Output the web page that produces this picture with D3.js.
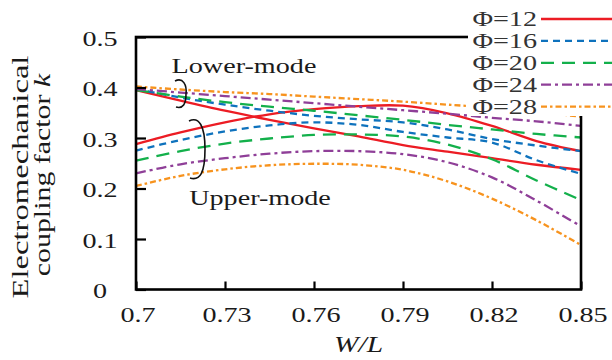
<!DOCTYPE html>
<html><head><meta charset="utf-8">
<script src="https://cdn.jsdelivr.net/npm/d3@7"></script>
<style>
html,body{margin:0;padding:0;background:#fff;}
svg{display:block;}
</style></head>
<body>
<svg id="chart" width="612" height="360"></svg>
<script>
// ---------- data ----------
const wl = [0.70, 0.715, 0.73, 0.745, 0.76, 0.775, 0.79, 0.805, 0.82, 0.835, 0.85];
const phiLabels = ["Φ=12", "Φ=16", "Φ=20", "Φ=24", "Φ=28"];
const lower12 = [0.395, 0.374, 0.354, 0.336, 0.319, 0.303, 0.286, 0.273, 0.260, 0.247, 0.237];
const upper12 = [0.288, 0.311, 0.331, 0.347, 0.357, 0.363, 0.364, 0.349, 0.324, 0.294, 0.274];
const lower16 = [0.397, 0.380, 0.366, 0.354, 0.344, 0.337, 0.331, 0.317, 0.298, 0.285, 0.274];
const upper16 = [0.275, 0.296, 0.313, 0.325, 0.331, 0.326, 0.312, 0.301, 0.291, 0.256, 0.229];
const lower20 = [0.395, 0.382, 0.371, 0.362, 0.354, 0.345, 0.336, 0.326, 0.317, 0.308, 0.301];
const upper20 = [0.255, 0.274, 0.289, 0.299, 0.306, 0.307, 0.303, 0.287, 0.258, 0.216, 0.177];
const lower24 = [0.397, 0.390, 0.383, 0.376, 0.369, 0.362, 0.355, 0.348, 0.340, 0.333, 0.324];
const upper24 = [0.230, 0.248, 0.260, 0.269, 0.274, 0.274, 0.268, 0.252, 0.222, 0.176, 0.125];
const lower28 = [0.402, 0.396, 0.391, 0.387, 0.382, 0.377, 0.372, 0.366, 0.360, 0.352, 0.342];
const upper28 = [0.205, 0.225, 0.238, 0.246, 0.249, 0.247, 0.237, 0.214, 0.180, 0.137, 0.088];
const xTicks = [0.70, 0.73, 0.76, 0.79, 0.82, 0.85];
const xTickLabels = ["0.7", "0.73", "0.76", "0.79", "0.82", "0.85"];
const yTicks = [0, 0.1, 0.2, 0.3, 0.4, 0.5];
const yTickLabels = ["0", "0.1", "0.2", "0.3", "0.4", "0.5"];

const series = [
  {name: phiLabels[0], lower: lower12, upper: upper12, color: "#ec1c24", dash: null},
  {name: phiLabels[1], lower: lower16, upper: upper16, color: "#0e72bd", dash: "7,5"},
  {name: phiLabels[2], lower: lower20, upper: upper20, color: "#13b04b", dash: "13,8"},
  {name: phiLabels[3], lower: lower24, upper: upper24, color: "#8f3f98", dash: "10,4,3,4"},
  {name: phiLabels[4], lower: lower28, upper: upper28, color: "#f7931e", dash: "6,3,2.5,3"}
];

// ---------- layout ----------
const svg = d3.select("#chart");
const L = 136, R = 581, T = 37, B = 289.5;
const SX = 1.28; // horizontal stretch of text
const FONT = "'Liberation Serif','Times New Roman',serif";

const x = d3.scaleLinear().domain([0.70, 0.85]).range([L, R]);
const y = d3.scaleLinear().domain([0, 0.5]).range([B, T]);

function stext(g, str, px, py, opts = {}) {
  const t = g.append("text")
    .attr("transform", `translate(${px},${py})` + (opts.rotate ? ` rotate(${opts.rotate})` : "") + ` scale(${opts.sx || SX},1)`)
    .attr("text-anchor", opts.anchor || "middle")
    .attr("font-family", FONT)
    .attr("font-size", opts.size || 22)
    .attr("fill", opts.fill || "#1a1a1a");
  if (opts.italic) t.attr("font-style", "italic");
  t.text(str);
  return t;
}

// ---------- curves ----------
const line = d3.line()
  .x(d => x(d[0]))
  .y(d => y(d[1]))
  .curve(d3.curveCatmullRom.alpha(0.5));

const curves = svg.append("g");
series.forEach(s => {
  [s.lower, s.upper].forEach(vals => {
    curves.append("path")
      .attr("d", line(wl.map((w, i) => [w, vals[i]])))
      .attr("fill", "none")
      .attr("stroke", s.color)
      .attr("stroke-width", 2.3)
      .attr("stroke-dasharray", s.dash);
  });
});

// ---------- frame and ticks ----------
const frame = svg.append("g").attr("stroke", "#000").attr("fill", "none");
frame.append("rect").attr("x", L).attr("y", T).attr("width", R - L).attr("height", B - T)
  .attr("stroke-width", 2.6);

const xAxis = d3.axisBottom(x).tickValues(xTicks).tickSize(-8).tickFormat("");
const gx = svg.append("g").attr("transform", `translate(0,${B})`).call(xAxis);
gx.select(".domain").remove();
gx.selectAll(".tick line").attr("stroke", "#000").attr("stroke-width", 2.2);

const yAxis = d3.axisLeft(y).tickValues(yTicks).tickSize(-10).tickFormat("");
const gy = svg.append("g").attr("transform", `translate(${L},0)`).call(yAxis);
gy.select(".domain").remove();
gy.selectAll(".tick line").attr("stroke", "#000").attr("stroke-width", 2.2);

// tick labels
const labels = svg.append("g");
xTicks.forEach((v, i) => stext(labels, xTickLabels[i], x(v) + 2, 322));
yTicks.forEach((v, i) => stext(labels, yTickLabels[i], 100, y(v) + 8.5));

// axis titles
stext(labels, "W/L", (L + R) / 2, 352, {italic: true, size: 23});
stext(labels, "Electromechanical", 28, 177, {rotate: -90, size: 23, sx: 1.42});
const t2 = stext(labels, "coupling factor ", 50, 175, {rotate: -90, size: 23, sx: 1.3});
t2.append("tspan").attr("font-style", "italic").text("k");

// ---------- annotations ----------
stext(labels, "Lower-mode", 244, 73);
stext(labels, "Upper-mode", 260, 205);

const ann = svg.append("g").attr("fill", "none").attr("stroke", "#111").attr("stroke-width", 1.6);
ann.append("path").attr("d", "M175,81 C183,77 187,85 186,94 C186,104 183,109 176,107");
ann.append("path").attr("d", "M189,121 C199,116 205,126 205,149 C205,173 200,181 190,178");

// ---------- legend ----------
const leg = svg.append("g");
leg.append("rect").attr("x", 468).attr("y", 0).attr("width", 144).attr("height", 116).attr("fill", "#fff");
series.forEach((s, i) => {
  const ly = 19 + i * 21.9;
  stext(leg, s.name, 537, ly + 7, {anchor: "end", fill: "#333", size: 21, sx: 1.34});
  leg.append("line").attr("x1", 541).attr("x2", 612).attr("y1", ly).attr("y2", ly)
    .attr("stroke", s.color).attr("stroke-width", 2.3).attr("stroke-dasharray", s.dash);
});
</script>
</body></html>
